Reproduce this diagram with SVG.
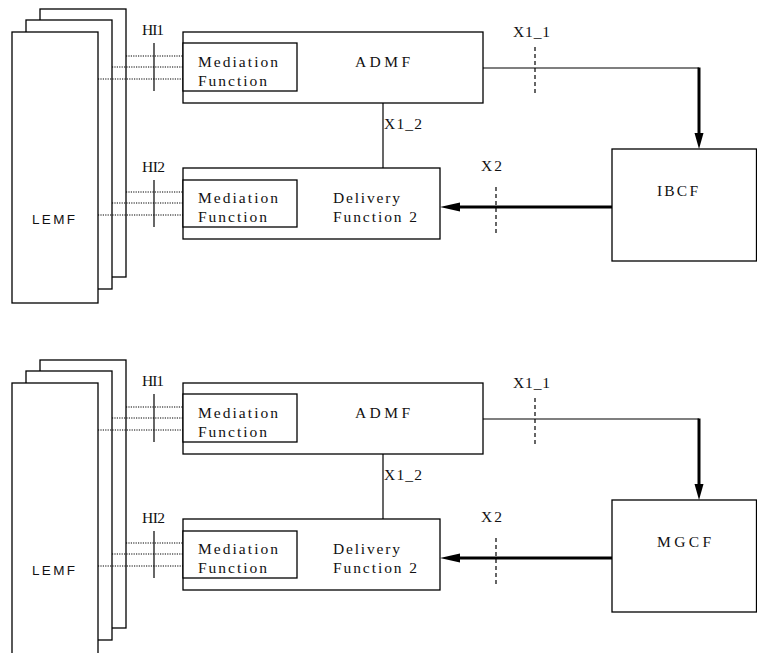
<svg xmlns="http://www.w3.org/2000/svg" width="757" height="653" viewBox="0 0 757 653">
<style>
.box{fill:#fff;stroke:#000;stroke-width:1.3}
.ln{fill:none;stroke:#000;stroke-width:1.2}
.thick{fill:none;stroke:#000;stroke-width:3}
.dot{fill:none;stroke:#000;stroke-width:1.2;stroke-dasharray:1.2 1.2}
.dash{fill:none;stroke:#000;stroke-width:1.2;stroke-dasharray:4 3}
.t{font-family:"Liberation Serif","Times New Roman",serif;font-size:15.5px;fill:#111}
.s{font-family:"Liberation Sans",Arial,sans-serif;font-size:13.5px;fill:#111}
.head{fill:#000}
</style>
<rect width="757" height="653" fill="#fff"/>

<g id="top">
  <g id="lemf1">
    <rect class="box" x="40" y="9" width="86" height="268"/>
    <rect class="box" x="26" y="20" width="86" height="269"/>
    <rect class="box" x="12" y="32" width="86" height="271"/>
    <text class="s" x="32" y="224" textLength="43" lengthAdjust="spacing">LEMF</text>
  </g>
  <g id="admf1">
    <rect class="box" x="183" y="32" width="300" height="71"/>
    <rect class="box" x="183" y="43" width="114" height="48"/>
    <text class="t" x="198" y="66.5" textLength="80" lengthAdjust="spacing">Mediation</text>
    <text class="t" x="198" y="85.5" textLength="69" lengthAdjust="spacing">Function</text>
    <text class="t" x="355" y="66.5" textLength="55" lengthAdjust="spacing">ADMF</text>
  </g>
  <g id="df2_1">
    <rect class="box" x="183" y="168" width="257" height="71"/>
    <rect class="box" x="183" y="180" width="114" height="47"/>
    <text class="t" x="198" y="202.5" textLength="80" lengthAdjust="spacing">Mediation</text>
    <text class="t" x="198" y="221.5" textLength="69" lengthAdjust="spacing">Function</text>
    <text class="t" x="333" y="202.5" textLength="67" lengthAdjust="spacing">Delivery</text>
    <text class="t" x="333" y="221.5" textLength="84" lengthAdjust="spacing">Function 2</text>
  </g>
  <g id="ibcf">
    <rect class="box" x="612" y="149" width="144.5" height="112"/>
    <text class="t" x="657" y="196" textLength="41" lengthAdjust="spacing">IBCF</text>
  </g>
  <g id="connectors1">
    <line class="dot" x1="126" y1="56" x2="183" y2="56"/>
    <line class="dot" x1="112" y1="67" x2="183" y2="67"/>
    <line class="dot" x1="98" y1="79" x2="183" y2="79"/>
    <line class="ln" x1="154" y1="43" x2="154" y2="91"/>
    <text class="t" x="142" y="35" textLength="22" lengthAdjust="spacing">HI1</text>
    <line class="dot" x1="126" y1="192" x2="183" y2="192"/>
    <line class="dot" x1="112" y1="203" x2="183" y2="203"/>
    <line class="dot" x1="98" y1="215" x2="183" y2="215"/>
    <line class="ln" x1="154" y1="180" x2="154" y2="227"/>
    <text class="t" x="142" y="172" textLength="23" lengthAdjust="spacing">HI2</text>
    <line class="ln" x1="383" y1="103" x2="383" y2="168"/>
    <text class="t" x="384" y="129" textLength="38" lengthAdjust="spacing">X1_2</text>
    <polyline class="ln" points="483,68 699,68"/>
    <line class="thick" x1="699" y1="67.5" x2="699" y2="136"/>
    <polygon class="head" points="694.5,133 703.5,133 699,149"/>
    <line class="dash" x1="535" y1="47" x2="535" y2="94"/>
    <text class="t" x="513" y="37" textLength="37" lengthAdjust="spacing">X1_1</text>
    <line class="thick" x1="612" y1="207" x2="455" y2="207"/>
    <polygon class="head" points="440,207 460,202.5 460,211.5"/>
    <line class="dash" x1="496" y1="187" x2="496" y2="233"/>
    <text class="t" x="481" y="171" textLength="21" lengthAdjust="spacing">X2</text>
  </g>
</g>

<g id="bottom" transform="translate(0,351)">
  <g id="lemf2">
    <rect class="box" x="40" y="9" width="86" height="268"/>
    <rect class="box" x="26" y="20" width="86" height="269"/>
    <rect class="box" x="12" y="32" width="86" height="280"/>
    <text class="s" x="32" y="224" textLength="43" lengthAdjust="spacing">LEMF</text>
  </g>
  <g id="admf2">
    <rect class="box" x="183" y="32" width="300" height="71"/>
    <rect class="box" x="183" y="43" width="114" height="48"/>
    <text class="t" x="198" y="66.5" textLength="80" lengthAdjust="spacing">Mediation</text>
    <text class="t" x="198" y="85.5" textLength="69" lengthAdjust="spacing">Function</text>
    <text class="t" x="355" y="66.5" textLength="55" lengthAdjust="spacing">ADMF</text>
  </g>
  <g id="df2_2">
    <rect class="box" x="183" y="168" width="257" height="71"/>
    <rect class="box" x="183" y="180" width="114" height="47"/>
    <text class="t" x="198" y="202.5" textLength="80" lengthAdjust="spacing">Mediation</text>
    <text class="t" x="198" y="221.5" textLength="69" lengthAdjust="spacing">Function</text>
    <text class="t" x="333" y="202.5" textLength="67" lengthAdjust="spacing">Delivery</text>
    <text class="t" x="333" y="221.5" textLength="84" lengthAdjust="spacing">Function 2</text>
  </g>
  <g id="mgcf">
    <rect class="box" x="612" y="149" width="144.5" height="112"/>
    <text class="t" x="657" y="196" textLength="54" lengthAdjust="spacing">MGCF</text>
  </g>
  <g id="connectors2">
    <line class="dot" x1="126" y1="56" x2="183" y2="56"/>
    <line class="dot" x1="112" y1="67" x2="183" y2="67"/>
    <line class="dot" x1="98" y1="79" x2="183" y2="79"/>
    <line class="ln" x1="154" y1="43" x2="154" y2="91"/>
    <text class="t" x="142" y="35" textLength="22" lengthAdjust="spacing">HI1</text>
    <line class="dot" x1="126" y1="192" x2="183" y2="192"/>
    <line class="dot" x1="112" y1="203" x2="183" y2="203"/>
    <line class="dot" x1="98" y1="215" x2="183" y2="215"/>
    <line class="ln" x1="154" y1="180" x2="154" y2="227"/>
    <text class="t" x="142" y="172" textLength="23" lengthAdjust="spacing">HI2</text>
    <line class="ln" x1="383" y1="103" x2="383" y2="168"/>
    <text class="t" x="384" y="129" textLength="38" lengthAdjust="spacing">X1_2</text>
    <polyline class="ln" points="483,68 699,68"/>
    <line class="thick" x1="699" y1="67.5" x2="699" y2="136"/>
    <polygon class="head" points="694.5,133 703.5,133 699,149"/>
    <line class="dash" x1="535" y1="47" x2="535" y2="94"/>
    <text class="t" x="513" y="37" textLength="37" lengthAdjust="spacing">X1_1</text>
    <line class="thick" x1="612" y1="207" x2="455" y2="207"/>
    <polygon class="head" points="440,207 460,202.5 460,211.5"/>
    <line class="dash" x1="496" y1="187" x2="496" y2="233"/>
    <text class="t" x="481" y="171" textLength="21" lengthAdjust="spacing">X2</text>
  </g>
</g>
</svg>
